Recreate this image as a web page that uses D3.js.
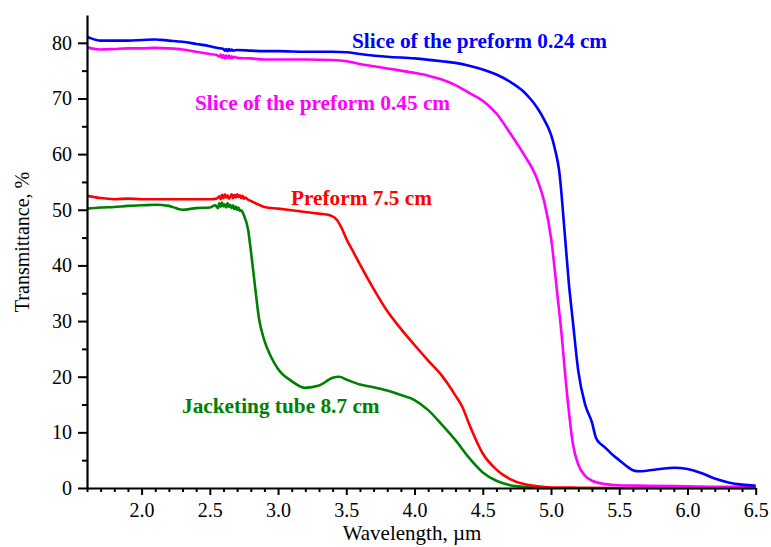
<!DOCTYPE html>
<html><head><meta charset="utf-8">
<script src="https://cdn.jsdelivr.net/npm/d3@7"></script>
<style>body{margin:0;background:#fff}svg{display:block}</style>
</head><body>
<svg id="c" width="771" height="547"></svg>
<script>
// ---- data ----
const blueWl = [1.6,1.63,1.7,1.8,1.9,2.0,2.1,2.2,2.3,2.4,2.5,2.55,2.6,2.61,2.62,2.63,2.64,2.65,2.66,2.67,2.7,2.8,2.9,3.0,3.2,3.4,3.5,3.6,3.8,4.0,4.2,4.3,4.4,4.5,4.6,4.7,4.8,4.85,4.9,4.95,5.0,5.03,5.06,5.1,5.13,5.16,5.2,5.25,5.3,5.33,5.37,5.4,5.45,5.5,5.55,5.6,5.65,5.7,5.8,5.9,6.0,6.1,6.2,6.3,6.4,6.5];
const blueT  = [81.1,80.8,80.4,80.4,80.4,80.5,80.6,80.4,80.2,79.8,79.4,79.1,78.9,78.6,78.9,78.5,78.9,78.6,78.8,78.6,78.7,78.6,78.5,78.5,78.4,78.4,78.3,78.0,77.5,77.2,76.7,76.4,75.9,75.2,74.3,73.0,71.2,69.9,68.3,66.2,63.5,60.8,57.0,46.0,37.0,30.0,21.0,15.0,11.8,9.0,7.8,7.2,6.0,5.0,4.0,3.2,3.0,3.1,3.4,3.65,3.4,2.7,1.7,1.0,0.6,0.4];

const magWl = [1.6,1.63,1.7,1.8,1.9,2.0,2.1,2.2,2.3,2.4,2.5,2.55,2.57,2.58,2.59,2.6,2.61,2.62,2.63,2.64,2.65,2.66,2.67,2.68,2.7,2.8,2.9,3.0,3.2,3.4,3.5,3.6,3.7,3.8,4.0,4.1,4.2,4.3,4.4,4.5,4.6,4.7,4.8,4.9,4.95,5.0,5.05,5.08,5.1,5.13,5.16,5.2,5.25,5.3,5.4,5.5,5.7,6.0,6.3,6.5];
const magT  = [79.3,79.0,78.8,78.9,79.0,79.0,79.1,79.0,78.8,78.4,78.0,77.8,77.5,77.9,77.3,77.8,77.2,77.7,77.3,77.7,77.2,77.6,77.3,77.5,77.3,77.2,77.0,77.0,77.0,76.9,76.7,76.2,75.8,75.4,74.6,74.1,73.4,72.4,71.0,69.6,67.3,63.8,60.0,55.4,51.5,45.0,34.0,27.0,21.5,14.0,8.0,4.2,2.2,1.3,0.7,0.5,0.4,0.3,0.2,0.2];

const redWl = [1.6,1.65,1.7,1.8,1.9,2.0,2.2,2.4,2.5,2.55,2.57,2.58,2.59,2.6,2.61,2.62,2.63,2.64,2.65,2.66,2.67,2.68,2.69,2.7,2.71,2.72,2.73,2.74,2.75,2.76,2.78,2.8,2.85,2.9,3.0,3.1,3.2,3.3,3.38,3.43,3.47,3.5,3.55,3.6,3.7,3.8,3.9,4.0,4.1,4.2,4.25,4.3,4.35,4.4,4.5,4.6,4.7,4.8,4.9,5.0,5.2,5.5,6.0,6.5];
const redT  = [52.5,52.3,52.1,51.9,52.0,51.9,51.9,51.9,51.9,52.0,52.4,51.9,52.7,52.1,52.8,52.2,52.6,52.0,52.3,52.8,52.1,52.7,52.2,52.8,52.3,52.6,52.1,52.5,52.0,52.2,51.8,51.6,51.0,50.5,50.2,49.9,49.6,49.3,49.0,48.2,46.5,44.8,42.5,40.2,35.8,31.8,28.6,25.7,22.9,20.2,18.5,16.6,14.6,11.5,6.2,3.3,1.6,0.7,0.3,0.1,0.05,0.0,0.0,0.0];

const grnWl = [1.6,1.7,1.8,1.9,2.0,2.1,2.2,2.25,2.3,2.4,2.5,2.54,2.56,2.57,2.58,2.59,2.6,2.61,2.62,2.63,2.64,2.65,2.66,2.67,2.68,2.69,2.7,2.71,2.72,2.73,2.75,2.78,2.8,2.83,2.86,2.9,2.95,3.0,3.1,3.2,3.3,3.4,3.45,3.5,3.6,3.7,3.8,3.9,4.0,4.1,4.2,4.3,4.4,4.5,4.6,4.7,4.8,4.9,5.0];
const grnT  = [50.2,50.4,50.5,50.7,50.8,50.9,50.7,50.3,50.0,50.3,50.4,50.8,50.3,51.2,50.5,51.3,50.6,51.0,50.4,51.2,50.5,50.9,50.3,50.8,50.1,50.6,50.0,50.4,49.8,49.9,49.0,46.5,42.8,36.5,30.5,26.5,23.5,21.4,19.2,18.0,18.4,19.8,20.0,19.5,18.6,18.1,17.5,16.7,15.8,14.0,11.4,8.6,5.4,2.8,1.3,0.5,0.2,0.05,0.0];

const xTicks = [2.0,2.5,3.0,3.5,4.0,4.5,5.0,5.5,6.0,6.5];
const yTicks = [0,10,20,30,40,50,60,70,80];

const seriesNames = ["Slice of the preform 0.24 cm","Slice of the preform 0.45 cm","Preform 7.5 cm","Jacketing tube 8.7 cm"];
const seriesColors = ["#0000ff","#ff00ff","#ff0000","#008000"];
const xLabel = "Wavelength, \u00b5m";
const yLabel = "Transmittance, %";

// ---- chart ----
const svg = d3.select("#c");
const L = 87, R = 755.7, B = 488, T = 15;
const x = d3.scaleLinear().domain([1.6, 6.5]).range([L, R]);
const y = d3.scaleLinear().domain([0, 85]).range([B, T]);
const font = "'Liberation Serif','Times New Roman',serif";

const series = [
  {wl: blueWl, t: blueT}, {wl: magWl, t: magT}, {wl: redWl, t: redT}, {wl: grnWl, t: grnT}
];
const line = d3.line().x(d => x(d[0])).y(d => y(d[1])).curve(d3.curveMonotoneX);
[3,2,1,0].forEach(i => {
  const s = series[i];
  svg.append("path")
    .datum(s.wl.map((w, k) => [w, s.t[k]]))
    .attr("d", line).attr("fill", "none")
    .attr("stroke", seriesColors[i]).attr("stroke-width", 2.6)
    .attr("stroke-linejoin", "round");
});

// axes
const minorX = d3.range(16, 66).map(v => v / 10).filter(v => Math.abs(v * 2 - Math.round(v * 2)) > 1e-6);
const minorY = d3.range(5, 85, 10);

const gx = svg.append("g").attr("transform", `translate(0,${B})`);
gx.call(d3.axisBottom(x).tickValues(xTicks).tickFormat(d3.format(".1f")).tickSize(7).tickSizeOuter(0));
gx.append("g").call(d3.axisBottom(x).tickValues(minorX).tickFormat("").tickSize(4).tickSizeOuter(0))
  .select(".domain").remove();
const gy = svg.append("g").attr("transform", `translate(${L},0)`);
gy.call(d3.axisLeft(y).tickValues(yTicks).tickFormat(d3.format("d")).tickSize(9).tickSizeOuter(0));
gy.append("g").call(d3.axisLeft(y).tickValues(minorY).tickFormat("").tickSize(5).tickSizeOuter(0))
  .select(".domain").remove();

svg.selectAll(".domain").attr("stroke", "#000").attr("stroke-width", 2.2);
svg.selectAll(".tick line").attr("stroke", "#000").attr("stroke-width", 2);
gx.selectAll(".tick text").attr("font-family", font).attr("font-size", 20).attr("fill", "#000").attr("dy", "0.95em").attr("y", 10);
gy.selectAll(".tick text").attr("font-family", font).attr("font-size", 20).attr("fill", "#000").attr("x", -15);

svg.append("text").attr("x", 412).attr("y", 540).attr("text-anchor", "middle")
  .attr("font-family", font).attr("font-size", 21).text(xLabel);
svg.append("text").attr("transform", "translate(29,242) rotate(-90)").attr("text-anchor", "middle")
  .attr("font-family", font).attr("font-size", 20).text(yLabel);

// series labels
const labelPos = [[352, 48], [195, 110], [291, 205], [182, 413]];
labelPos.forEach((p, i) => {
  svg.append("text").attr("x", p[0]).attr("y", p[1])
    .attr("font-family", font).attr("font-weight", "bold").attr("font-size", 21.3)
    .attr("fill", seriesColors[i]).text(seriesNames[i]);
});
</script>
</body></html>
